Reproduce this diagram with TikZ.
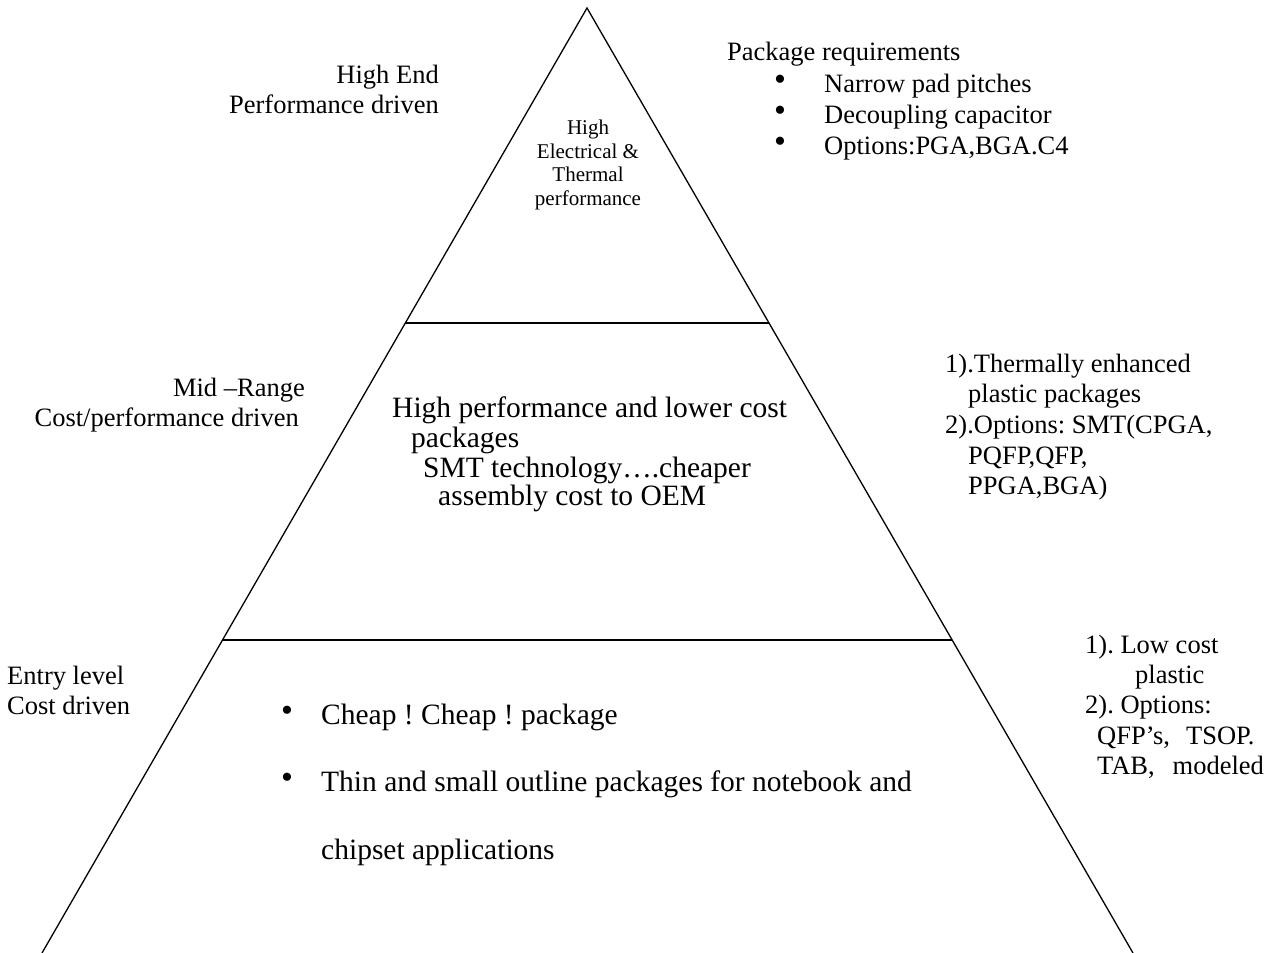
\documentclass[tikz,border=0pt]{standalone}
\usepackage{fontspec}
\setmainfont{Liberation Serif}
\frenchspacing
\usetikzlibrary{calc}
\begin{document}
\begin{tikzpicture}[x=1pt,y=-1pt,
  edge/.style={line width=1.3pt,black},
  big/.style={font=\fontsize{26.5}{29.5}\selectfont,inner sep=0pt},
  inner/.style={font=\fontsize{29.5}{30}\selectfont,inner sep=0pt},
  small/.style={font=\fontsize{21}{23.5}\selectfont,inner sep=0pt,align=center},
  bul/.style={font=\fontsize{34}{34}\selectfont,inner sep=0pt,anchor=center}]
\useasboundingbox (0,0) rectangle (1283,953);
% triangle
\coordinate (A) at (587,8);
\coordinate (L) at (42,953);
\coordinate (R) at (1133,953);
\coordinate (L1) at ($(A)!{315/945}!(L)$);
\coordinate (R1) at ($(A)!{315/945}!(R)$);
\coordinate (L2) at ($(A)!{632/945}!(L)$);
\coordinate (R2) at ($(A)!{632/945}!(R)$);
\draw[edge] (L) -- (A) -- (R);
\draw[edge] (L1) -- (R1);
\draw[edge] (L2) -- (R2);
% left labels
\node[big,anchor=base east,align=right] (high) at (439,113) {High End\\Performance driven};
\node[big,anchor=base east,align=right] (mid) at (299,426) {Mid –Range\hspace*{-6pt}\\Cost/performance driven};
\node[big,anchor=base west,align=left] (entry) at (7,714) {Entry level\\Cost driven};
% top inside
\node[small,anchor=base] (top) at (588,205) {High\\Electrical \&\\Thermal\\performance};
% middle inside
\node[inner,anchor=base west] (m1) at (392,417) {High performance and lower cost};
\node[inner,anchor=base west] (m2) at (411,447) {packages};
\node[inner,anchor=base west] (m3) at (423,477) {SMT technology….cheaper};
\node[inner,anchor=base west] (m4) at (438,505) {assembly cost to OEM};
% bottom inside
\node[bul] (b1) at (287,714) {•};
\node[inner,anchor=base west] (t1) at (321,724) {Cheap ! Cheap ! package};
\node[bul] (b2) at (287,781) {•};
\node[inner,anchor=base west] (t2) at (321,791) {Thin and small outline packages for notebook and};
\node[inner,anchor=base west] (t3) at (321,859) {chipset applications};
% upper right
\node[big,anchor=base west] (pr) at (727,60) {Package requirements};
\node[bul] (pb1) at (780,83) {•};
\node[big,anchor=base west] (p1) at (824,92) {Narrow pad pitches};
\node[bul] (pb2) at (780,114) {•};
\node[big,anchor=base west] (p2) at (824,123) {Decoupling capacitor};
\node[bul] (pb3) at (780,145) {•};
\node[big,anchor=base west] (p3) at (824,154) {Options:PGA,BGA.C4};
% middle right
\node[big,anchor=base west] (r1) at (945,372) {1).Thermally enhanced};
\node[big,anchor=base west] (r2) at (968,402) {plastic packages};
\node[big,anchor=base west] (r3) at (945,433) {2).Options: SMT(CPGA,};
\node[big,anchor=base west] (r4) at (968,464) {PQFP,QFP,};
\node[big,anchor=base west] (r5) at (968,494) {PPGA,BGA)};
% bottom right
\node[big,anchor=base west] (s1) at (1085,653) {1). Low cost};
\node[big,anchor=base west] (s2) at (1135,683) {plastic};
\node[big,anchor=base west] (s3) at (1085,713) {2). Options:};
\node[big,anchor=base west] (s4) at (1097,744) {QFP’s,\hspace{16pt}TSOP.};
\node[big,anchor=base west] (s5) at (1097,774) {TAB,\hspace{18pt}modeled};
\end{tikzpicture}
\end{document}
